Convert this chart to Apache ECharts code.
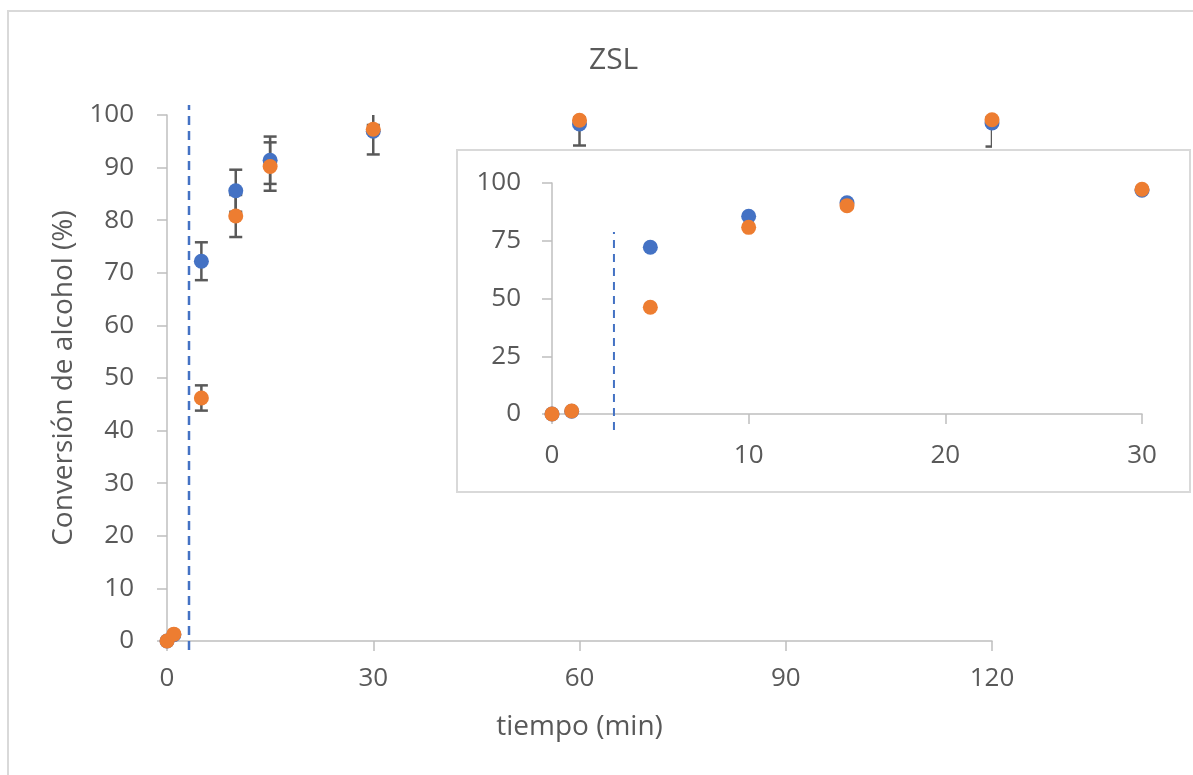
<!DOCTYPE html>
<html>
<head>
<meta charset="utf-8">
<script src="https://cdn.jsdelivr.net/npm/echarts@6/dist/echarts.min.js"></script>
<style>
html,body{margin:0;padding:0;background:#fff;}
#c{width:1193px;height:775px;}
</style>
</head>
<body>
<div id="c"></div>
<script>
// ---- data ----
const times      = [0, 1, 5, 10, 15, 30, 60, 120];
const seriesA    = [0, 1.2, 72.2, 85.6, 91.4, 96.9, 98.3, 98.5];   // blue
const seriesAErr = [0, 0, 3.6, 4.0, 4.5, 4.4, 4.1, 4.5];
const seriesB    = [0, 1.3, 46.2, 80.8, 90.2, 97.3, 99.0, 99.1];   // orange
const seriesBErr = [0, 0, 2.4, 4.0, 4.6, 0.8, 0.5, 0.5];
const mainXTicks = [0, 30, 60, 90, 120];
const insetMaxTime = 30;
const cutoffTime = 3.2;
const mainCutoffRange  = [-1.7, 101.9];
const insetCutoffRange = [-6.9, 78.8];

const BLUE = '#4472C4', ORANGE = '#ED7D31', TEXT = '#595959', AXIS = '#BFBFBF', FONT = 'Open Sans';

function pts(vals, maxT) {
  const out = [];
  times.forEach((t, i) => { if (maxT === undefined || t <= maxT) out.push([t, vals[i]]); });
  return out;
}
function errs(vals, e) {
  const out = [];
  times.forEach((t, i) => { if (e[i] > 0) out.push([t, vals[i] - e[i], vals[i] + e[i]]); });
  return out;
}
function errRender(params, api) {
  const x = api.value(0), lo = api.value(1), hi = api.value(2);
  const a = api.coord([x, hi]), b = api.coord([x, lo]);
  const w = 6.5, st = { stroke: '#595959', lineWidth: 2.5 };
  return { type: 'group', children: [
    { type: 'line', shape: { x1: a[0], y1: a[1], x2: b[0], y2: b[1] }, style: st },
    { type: 'line', shape: { x1: a[0] - w, y1: a[1], x2: a[0] + w, y2: a[1] }, style: st },
    { type: 'line', shape: { x1: b[0] - w, y1: b[1], x2: b[0] + w, y2: b[1] }, style: st }
  ]};
}

const axisLineStyle = { show: true, lineStyle: { color: AXIS, width: 1.5 } };
const tickStyle = { show: true, length: 10, lineStyle: { color: AXIS, width: 1.5 } };
const labelStyle = (m) => ({ fontSize: 26, color: TEXT, fontFamily: FONT, margin: m });

const chart = echarts.init(document.getElementById('c'), null, { renderer: 'canvas' });
chart.setOption({
  animation: false,
  backgroundColor: '#fff',
  title: {
    text: 'ZSL', left: 584, top: 40,
    textStyle: { fontSize: 30, color: TEXT, fontFamily: FONT, fontWeight: 'normal' }
  },
  graphic: [
    { type: 'rect', z: -10, shape: { x: 8, y: 11, width: 1200, height: 800 },
      style: { fill: 'none', stroke: '#D9D9D9', lineWidth: 2 } },
    { type: 'rect', z: -9, shape: { x: 457, y: 150, width: 733, height: 342 },
      style: { fill: '#fff', stroke: '#D9D9D9', lineWidth: 2 } }
  ],
  grid: [
    { left: 167, right: 201, top: 115, bottom: 134 },
    { left: 552, right: 51, top: 183, bottom: 361 }
  ],
  xAxis: [
    { gridIndex: 0, type: 'value', min: 0, max: 120, interval: 30,
      axisLine: axisLineStyle, axisTick: tickStyle, splitLine: { show: false },
      axisLabel: labelStyle(25),
      name: 'tiempo (min)', nameLocation: 'middle', nameGap: 72,
      nameTextStyle: { fontSize: 28, color: TEXT, fontFamily: FONT } },
    { gridIndex: 1, type: 'value', min: 0, max: insetMaxTime, interval: 10,
      axisLine: axisLineStyle, axisTick: tickStyle, splitLine: { show: false },
      axisLabel: labelStyle(29) }
  ],
  yAxis: [
    { gridIndex: 0, type: 'value', min: 0, max: 100, interval: 10,
      axisLine: axisLineStyle, axisTick: tickStyle, splitLine: { show: false },
      axisLabel: labelStyle(33),
      name: 'Conversión de alcohol (%)', nameLocation: 'middle', nameGap: 86,
      nameTextStyle: { fontSize: 28, color: TEXT, fontFamily: FONT } },
    { gridIndex: 1, type: 'value', min: 0, max: 100, interval: 25,
      axisLine: axisLineStyle, axisTick: tickStyle, splitLine: { show: false },
      axisLabel: labelStyle(31) }
  ],
  series: [
    // main cutoff dashed line
    { type: 'line', xAxisIndex: 0, yAxisIndex: 0, clip: false, symbol: 'none', z: 1,
      data: [[cutoffTime, mainCutoffRange[0]], [cutoffTime, mainCutoffRange[1]]],
      lineStyle: { color: BLUE, width: 2.5, type: [9, 6] } },
    // main error bars
    { type: 'custom', xAxisIndex: 0, yAxisIndex: 0, clip: true, z: 2,
      renderItem: errRender, data: errs(seriesA, seriesAErr) },
    { type: 'custom', xAxisIndex: 0, yAxisIndex: 0, clip: true, z: 2,
      renderItem: errRender, data: errs(seriesB, seriesBErr) },
    // main points
    { type: 'scatter', xAxisIndex: 0, yAxisIndex: 0, clip: false, z: 3, symbolSize: 15,
      itemStyle: { color: BLUE, opacity: 1 }, data: pts(seriesA) },
    { type: 'scatter', xAxisIndex: 0, yAxisIndex: 0, clip: false, z: 4, symbolSize: 15,
      itemStyle: { color: ORANGE, opacity: 1 }, data: pts(seriesB) },
    // inset
    { type: 'line', xAxisIndex: 1, yAxisIndex: 1, clip: false, symbol: 'none', z: 1,
      data: [[cutoffTime - 0.05, insetCutoffRange[0]], [cutoffTime - 0.05, insetCutoffRange[1]]],
      lineStyle: { color: BLUE, width: 2, type: [8, 6] } },
    { type: 'scatter', xAxisIndex: 1, yAxisIndex: 1, clip: false, z: 3, symbolSize: 15,
      itemStyle: { color: BLUE, opacity: 1 }, data: pts(seriesA, insetMaxTime) },
    { type: 'scatter', xAxisIndex: 1, yAxisIndex: 1, clip: false, z: 4, symbolSize: 15,
      itemStyle: { color: ORANGE, opacity: 1 }, data: pts(seriesB, insetMaxTime) }
  ]
});
</script>
</body>
</html>
